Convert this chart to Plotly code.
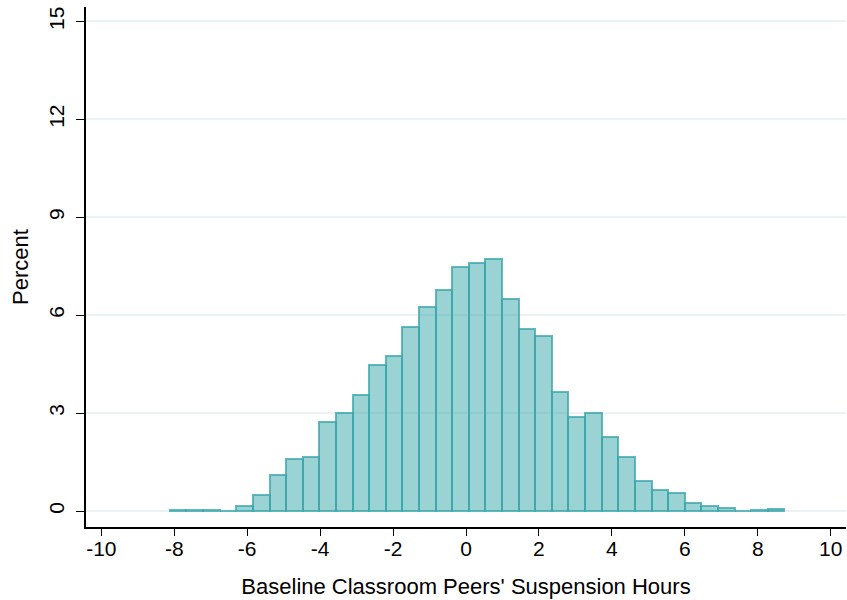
import plotly.graph_objects as go

# Histogram data
bin_start = -8.12
bin_width = 0.4554
percent = [0.03, 0.03, 0.03, 0.01, 0.16, 0.48, 1.10, 1.60, 1.65, 2.72,
           3.00, 3.55, 4.46, 4.76, 5.64, 6.26, 6.77, 7.48, 7.59, 7.72,
           6.48, 5.59, 5.37, 3.66, 2.88, 3.00, 2.26, 1.65, 0.92, 0.65,
           0.55, 0.26, 0.14, 0.09, 0.01, 0.04, 0.07]

x_ticks = [-10, -8, -6, -4, -2, 0, 2, 4, 6, 8, 10]
y_ticks = [0, 3, 6, 9, 12, 15]

centers = [bin_start + bin_width * (i + 0.5) for i in range(len(percent))]

fig = go.Figure()
fig.add_trace(go.Bar(
    x=centers, y=percent, width=bin_width,
    marker=dict(color="rgba(56,166,170,0.5)",
                line=dict(color="rgba(56,166,170,0.78)", width=2)),
    showlegend=False,
))

font = "Liberation Sans, Arial, sans-serif"
fig.update_layout(
    width=847, height=600,
    margin=dict(l=86, r=1, t=7, b=73),
    paper_bgcolor="white", plot_bgcolor="white",
    bargap=0,
    font=dict(family=font, size=21, color="black"),
    xaxis=dict(
        range=[-10.42, 10.42], tickvals=x_ticks,
        ticktext=[str(v) for v in x_ticks],
        showgrid=False, zeroline=False,
        showline=True, linecolor="black", linewidth=1.5,
        ticks="outside", ticklen=7, tickwidth=1.2, tickcolor="black",
        tickfont=dict(size=21), ticklabeloverflow="allow",
        ticklabelstandoff=-5,
        title=dict(text="Baseline Classroom Peers' Suspension Hours",
                   font=dict(size=22), standoff=20),
        automargin=False,
    ),
    yaxis=dict(
        range=[-0.49, 15.44], tickvals=y_ticks,
        showgrid=True, gridcolor="rgb(234,242,243)", gridwidth=1.5,
        zeroline=False,
        showline=True, linecolor="black", linewidth=1.5,
        ticks="outside", ticklen=8, tickwidth=1.2, tickcolor="black",
        tickangle=-90, tickfont=dict(size=21), ticklabelstandoff=4,
        ticklabeloverflow="allow",
        title=dict(text="Percent", font=dict(size=22), standoff=10),
        automargin=False,
    ),
)

fig.write_html("out.html",
               config={"displayModeBar": False},
               post_script="document.body.style.margin='0px';"
                           "document.body.style.overflow='hidden';")
